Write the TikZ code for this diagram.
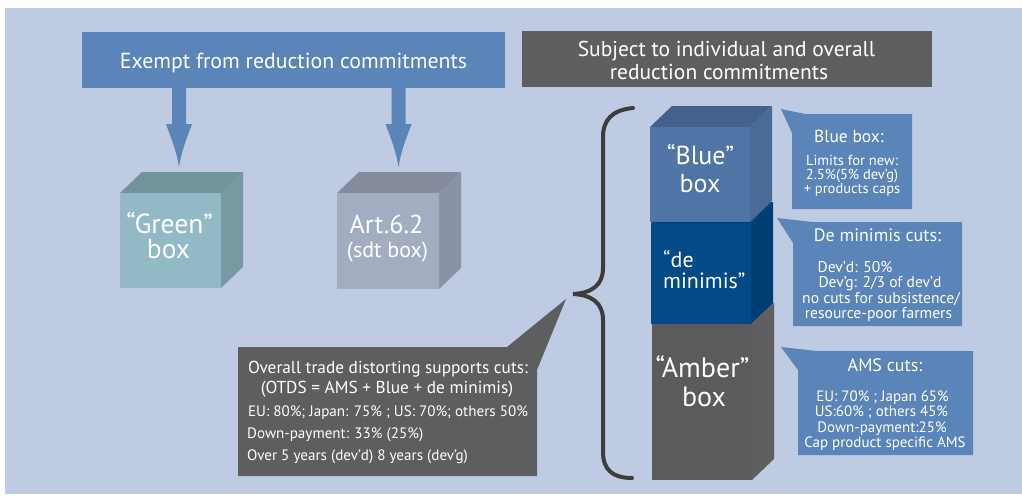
\documentclass[tikz,border=0pt]{standalone}
\usepackage{fontspec}
\setmainfont{PT Sans}
\definecolor{bgc}{HTML}{BFCBE2}
\definecolor{exc}{HTML}{5B84B8}
\definecolor{subc}{HTML}{5E5E61}
\definecolor{grF}{HTML}{92B9C6}
\definecolor{grT}{HTML}{72939B}
\definecolor{grS}{HTML}{7899A1}
\definecolor{arF}{HTML}{A2ADC2}
\definecolor{arT}{HTML}{838B9D}
\definecolor{arS}{HTML}{8A92A5}
\definecolor{blF}{HTML}{5174A6}
\definecolor{blT}{HTML}{43618B}
\definecolor{blS}{HTML}{4A6A98}
\definecolor{dmF}{HTML}{034A87}
\definecolor{dmT}{HTML}{023F74}
\definecolor{dmS}{HTML}{003F74}
\definecolor{amF}{HTML}{5B5B5E}
\definecolor{amT}{HTML}{626265}
\definecolor{amS}{HTML}{5F5F62}
\definecolor{brc}{HTML}{3D3D3D}
\newcommand\mycube[7]{%
  \fill[#6] (#1,#2) -- (#1+22,#2-21) -- (#3+22,#2-21) -- (#3,#2) -- cycle;
  \fill[#7] (#3,#2) -- (#3+22,#2-21) -- (#3+22,#4-21) -- (#3,#4) -- cycle;
  \fill[#5] (#1,#2) rectangle (#3,#4);
}
\tikzset{
  txt/.style={text=white, inner sep=0pt, anchor=base},
  fatarrow/.pic={\fill[exc] (-7,0) -- (-7,36) -- (-13,36) .. controls (-10,45) and (-3,60) .. (0,79) .. controls (3,60) and (10,45) .. (13,36) -- (7,36) -- (7,0) -- cycle;},
  fs/.style={font=\fontsize{#1}{#1}\selectfont}
}
\begin{document}
\begin{tikzpicture}[x=1pt,y=-1pt]
\useasboundingbox (0,0) rectangle (1022,495);
\fill[bgc] (5,8) rectangle (1022,494);

% headers
\node[fill=exc, inner sep=0, minimum width=423pt, minimum height=56pt] (ex) at (293.5,60) {};
\node[txt, fs=21.8] (exT) at (293.5,68) {Exempt from reduction commitments};
\node[fill=subc, inner sep=0, minimum width=410pt, minimum height=56pt] (sub) at (727,59) {};
\node[txt, fs=21.5] (subT1) at (726.5,56.5) {Subject to individual and overall};
\node[txt, fs=21.5] (subT2) at (719,79) {reduction commitments};

% arrows
\pic at (179,88) {fatarrow};
\pic at (398.5,88) {fatarrow};

% green and art cubes
\mycube{120}{193}{221}{288}{grF}{grT}{grS}
\node[txt, fs=27.5] (gr1) at (169.5,233) {“Green”};
\node[txt, fs=27.5] (gr2) at (168.5,258) {box};
\mycube{337}{193}{439}{289}{arF}{arT}{arS}
\node[txt, fs=26] (ar1) at (386.5,233) {Art.6.2};
\node[txt, fs=22] (ar2) at (387.5,257) {(sdt box)};

% stack
\mycube{652}{324}{752}{480}{amF}{amT}{amS}
\mycube{651}{223}{751}{324}{dmF}{dmT}{dmS}
\mycube{650}{127}{750}{222}{blF}{blT}{blS}
\node[txt, fs=26] (bl1) at (700.5,164) {“Blue”};
\node[txt, fs=26] (bl2) at (700,192) {box};
\node[txt, fs=22, anchor=base west] (dm1) at (663,267) {“de};
\node[txt, fs=22, anchor=base west] (dm2) at (663,288) {minimis”};
\node[txt, fs=28] (am1) at (702.5,377) {“Amber”};
\node[txt, fs=28] (am2) at (704,406) {box};

% brace
\draw[brc, line width=4pt, line cap=round] (633,108) .. controls (612,110) and (603,120) .. (603,137) -- (603,268) .. controls (603,285) and (592,293) .. (573,294) .. controls (592,295) and (603,303) .. (603,320) -- (603,452) .. controls (603,470) and (613,478) .. (632,478);

% overall callout
\fill[subc] (238,347) -- (507,347) -- (566,299) -- (537,370) -- (537,476) -- (238,476) -- cycle;
\node[txt, fs=17.3] (ov1) at (388,373) {Overall trade distorting supports cuts:};
\node[txt, fs=17.3] (ov2) at (387,393.5) {(OTDS = AMS + Blue + de minimis)};
\node[txt, fs=15.1] (ov3) at (388,416) {EU: 80\%; Japan: 75\% ; US: 70\%; others 50\%};
\node[txt, fs=15.1, anchor=base west] (ov4) at (247,438) {Down-payment: 33\% (25\%)};
\node[txt, fs=15.1, anchor=base west] (ov5) at (247,460) {Over 5 years (dev’d) 8 years (dev’g)};

% blue callouts
\fill[exc] (781,109) -- (805,114) -- (912,114) -- (912,209) -- (792,209) -- (792,133) -- cycle;
\node[txt, fs=17.5] (c1a) at (849,142) {Blue box:};
\node[txt, anchor=center, align=center, font=\fontsize{14.5}{14}\selectfont] (c1b) at (852,176) {Limits for new:\\2.5\%(5\% dev’g)\\+ products caps};

\fill[exc] (777,218) -- (812,222) -- (962,222) -- (962,326) -- (793,326) -- (793,243) -- cycle;
\node[txt, fs=18] (c2a) at (877.5,241) {De minimis cuts:};
\node[txt, fs=15.6] (c2b) at (855,272) {Dev’d: 50\%};
\node[txt, fs=15.6] (c2c) at (880,287) {Dev’g: 2/3 of dev’d};
\node[txt, fs=15.6] (c2d) at (881,303) {no cuts for subsistence/};
\node[txt, fs=15.6] (c2e) at (878.5,318) {resource-poor farmers};

\fill[exc] (781,347) -- (817,351) -- (973,351) -- (973,455) -- (798,455) -- (798,370) -- cycle;
\node[txt, fs=18] (c3a) at (885,371) {AMS cuts:};
\node[txt, fs=15] (c3b) at (882.5,401) {EU: 70\% ; Japan 65\%};
\node[txt, fs=15] (c3c) at (881.5,416) {US:60\% ; others 45\%};
\node[txt, fs=15] (c3d) at (882,432) {Down-payment:25\%};
\node[txt, fs=15] (c3e) at (885,447) {Cap product specific AMS};
\end{tikzpicture}
\end{document}
